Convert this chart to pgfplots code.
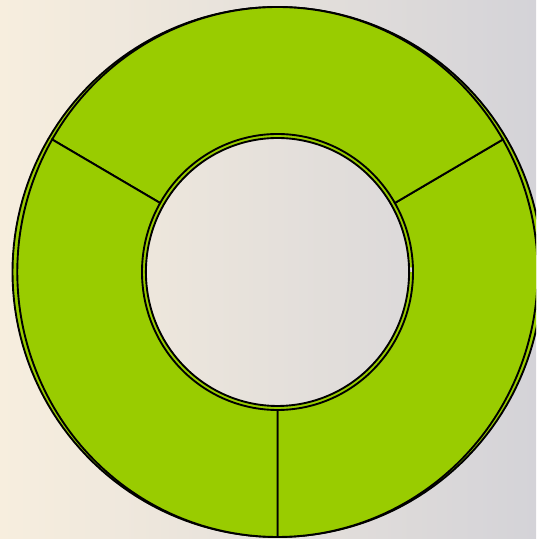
\documentclass[border=0pt]{standalone}
\usepackage{pgfplots}
\usepackage{pgfplotstable}
\pgfplotsset{compat=1.18}

\definecolor{donutgreen}{RGB}{153,204,0}
\definecolor{bgwarm}{RGB}{247,238,222}
\definecolor{bggray}{RGB}{212,211,216}

% three equal slices
\pgfplotstableread{
slice value
A 1
B 1
C 1
}\donutdata

% geometry in pixel units of the reference
\def\cx{277.5}
\def\cy{267}
\def\Ro{265}
\def\Ri{138}
\def\kx{0.982}

\begin{document}
\begin{tikzpicture}
\begin{axis}[
  width=10cm, height=10.056cm, scale only axis,
  xmin=0, xmax=536, ymin=0, ymax=539,
  hide axis, clip=true,
  declare function={
    segr(\s)=(\s<1.0001 ? \Ro : (\s<1.0501 ? \Ro-(\Ro-\Ri)*(\s-1)/0.05 : \Ri));
    sega(\s,\a,\b)=(\s<1.0001 ? \a+\s*(\b-\a) : (\s<1.0501 ? \b : \b-(\s-1.05)/0.95*(\b-\a)));
  },
]
% background
\addplot[draw=none, left color=bgwarm, right color=bggray]
  coordinates {(0,0) (536,0) (536,539) (0,539)} -- cycle;

% depth ring behind the slices
\addplot[fill=donutgreen, draw=none, even odd rule, domain=0:2, samples=361, variable=\s]
  ({\cx + (\s<1.0001 ? \Ro*cos(360*\s) : \kx*(\Ri-4)*cos(360*\s))},
   {\cy + (\s<1.0001 ? \Ro*sin(360*\s) : (\Ri-4)*sin(360*\s))}) -- cycle;
\addplot[black, line width=1pt, domain=0:360, samples=181]
  ({\cx+\Ro*cos(x)}, {\cy+\Ro*sin(x)});
\addplot[black, line width=1pt, domain=0:360, samples=181]
  ({\cx+\kx*(\Ri-4)*cos(x)}, {\cy+(\Ri-4)*sin(x)});

% slices
\def\total{0}
\pgfplotsforeachungrouped \i in {0,1,2}{%
  \pgfplotstablegetelem{\i}{value}\of\donutdata
  \pgfmathsetmacro\total{\total+\pgfplotsretval}%
}
\def\acur{-90}
\pgfplotsforeachungrouped \i in {0,1,2}{%
  \pgfplotstablegetelem{\i}{value}\of\donutdata
  \pgfmathsetmacro\anext{\acur+360*\pgfplotsretval/\total}%
  \edef\temp{\noexpand\addplot[fill=donutgreen, draw=black, line width=1pt,
      domain=0:2, samples=201, variable=\noexpand\s]
    ({\cx+\kx*segr(\noexpand\s)*cos(sega(\noexpand\s,\acur,\anext))},
     {\cy+segr(\noexpand\s)*sin(sega(\noexpand\s,\acur,\anext))}) -- cycle;}%
  \temp
  \let\acur\anext
}
\end{axis}
\end{tikzpicture}
\end{document}
